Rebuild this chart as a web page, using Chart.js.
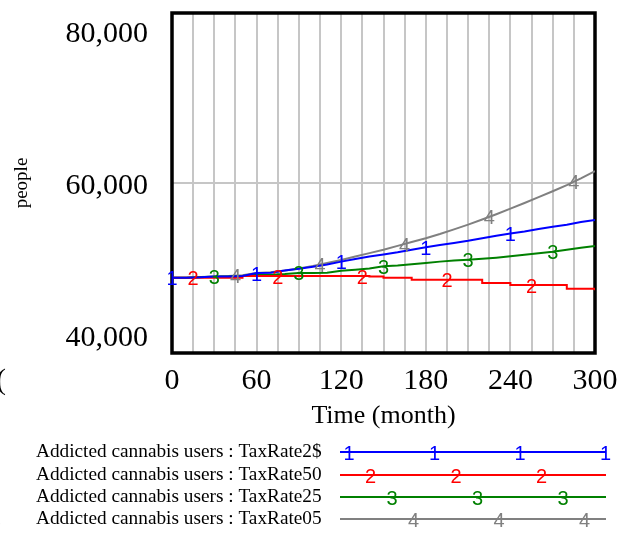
<!DOCTYPE html>
<html>
<head>
<meta charset="utf-8">
<title>Addicted cannabis users</title>
<script src="https://cdn.jsdelivr.net/npm/chart.js@4.4.0/dist/chart.umd.min.js"></script>
<style>
  html, body { margin: 0; padding: 0; background: #ffffff; }
  #wrap { width: 630px; height: 538px; }
</style>
</head>
<body>
<div id="wrap"><canvas id="chart" width="630" height="538"></canvas></div>
<script>
const months = [0, 10, 20, 30, 40, 50, 60, 70, 80, 90, 100, 110, 120, 130, 140, 150,
                160, 170, 180, 190, 200, 210, 220, 230, 240, 250, 260, 270, 280, 290, 300];

const taxRate2 = [48860, 48860, 48900, 49000, 49000, 49050, 49400, 49450, 49700, 49920, 50150,
                  50400, 50750, 51050, 51350, 51600, 51850, 52150, 52450, 52700, 52950,
                  53200, 53500, 53800, 54050, 54300, 54600, 54850, 55100, 55400, 55650];
const taxRate50 = [48860, 48860, 48860, 48860, 48860, 49050, 49050, 49050, 49050, 49050, 49050,
                   49050, 49050, 49050, 49000, 48850, 48850, 48620, 48620, 48620, 48620,
                   48620, 48240, 48240, 48000, 48000, 48000, 48000, 47550, 47550, 47380];
const taxRate25 = [48860, 48860, 48950, 48980, 49000, 49050, 49200, 49220, 49300, 49420, 49420,
                   49450, 49680, 49800, 49950, 50200, 50300, 50450, 50600, 50750, 50870,
                   50980, 51090, 51220, 51380, 51550, 51730, 51920, 52150, 52380, 52600];
const taxRate05 = [48860, 48860, 48900, 49000, 49050, 49150, 49400, 49500, 49700, 49950, 50250,
                   50600, 50950, 51350, 51750, 52150, 52600, 53050, 53500, 54000, 54550,
                   55100, 55700, 56330, 56980, 57650, 58330, 59030, 59750, 60550, 61400];

const seriesNames = [
  'Addicted cannabis users : TaxRate2$',
  'Addicted cannabis users : TaxRate50',
  'Addicted cannabis users : TaxRate25',
  'Addicted cannabis users : TaxRate05'
];
const seriesColors = ['#0000ff', '#ff0000', '#008000', '#808080'];
// only the TaxRate50 run shows clear flat steps
const seriesStepped = [false, true, false, false];

// months where each run gets its number tag
const markerMonths = [
  [0, 60, 120, 180, 240],
  [15, 75, 135, 195, 255],
  [30, 90, 150, 210, 270],
  [45, 105, 165, 225, 285]
];

const xTickLabels = [0, 60, 120, 180, 240, 300];
const yTickLabels = [40000, 60000, 80000];

const SERIF = '"Liberation Serif", "Times New Roman", serif';
const SANS = '"Liberation Sans", Arial, sans-serif';

// --- Helpers ---
const toPoints = (vals) => months.map((m, i) => ({ x: m, y: vals[i] }));

// value of a run at month t (held for stepped runs, linear otherwise)
const valueAt = (data, t, stepped) => {
  for (let i = 0; i < data.length - 1; i++) {
    const a = data[i], b = data[i + 1];
    if (t >= a.x && t <= b.x) {
      if (stepped) return t === b.x ? b.y : a.y;
      return a.y + (b.y - a.y) * (t - a.x) / (b.x - a.x);
    }
  }
  return data[data.length - 1].y;
};

// y labels are nudged like Vensim does: the two end labels sit inside the frame.
// The nudge is done with an empty extra line whose height sets the shift.
const yLabelLineHeight = (v) => {
  if (v === 80000) return 1.4;
  if (v === 40000) return 0.97;
  return 0.2;
};

// --- Plugins ---
const plotFrame = {
  id: 'plotFrame',
  beforeDatasetsDraw(chart) {
    const { ctx, chartArea: a } = chart;
    ctx.save();
    ctx.strokeStyle = '#000000';
    ctx.lineWidth = 3.5;
    ctx.strokeRect(a.left, a.top, a.right - a.left, a.bottom - a.top);
    ctx.restore();
  }
};

const numberTags = {
  id: 'numberTags',
  afterDatasetsDraw(chart) {
    const { ctx, scales: { x, y } } = chart;
    ctx.save();
    ctx.font = '20px ' + SANS;
    ctx.textAlign = 'center';
    ctx.textBaseline = 'middle';
    chart.data.datasets.forEach((ds, i) => {
      ctx.fillStyle = ds.borderColor;
      markerMonths[i].forEach(t => {
        const v = valueAt(ds.data, t, seriesStepped[i]);
        ctx.fillText(String(i + 1), x.getPixelForValue(t), y.getPixelForValue(v) + 2);
      });
    });
    ctx.restore();
  }
};

// Vensim style key under the plot: name on the left, sample line with tags on the right
const runKey = {
  id: 'runKey',
  afterDraw(chart) {
    const { ctx } = chart;
    const rowY = [452, 475, 497, 519];
    ctx.save();
    chart.data.datasets.forEach((ds, i) => {
      const yy = rowY[i];
      ctx.fillStyle = '#000000';
      ctx.font = '19.3px ' + SERIF;
      ctx.textAlign = 'left';
      ctx.textBaseline = 'middle';
      ctx.fillText(ds.label, 36, yy);

      ctx.strokeStyle = ds.borderColor;
      ctx.lineWidth = 2;
      ctx.beginPath();
      ctx.moveTo(340, yy);
      ctx.lineTo(606, yy);
      ctx.stroke();

      ctx.fillStyle = ds.borderColor;
      ctx.font = '20px ' + SANS;
      ctx.textAlign = 'center';
      for (let tx = 349 + i * 21.5; tx <= 607; tx += 85.5) {
        ctx.fillText(String(i + 1), tx, yy + 2);
      }
      // clipped tag remnants at the left edge
      ctx.fillText(String(i + 1), -5, yy + 2);
    });
    ctx.fillStyle = '#000000';
    ctx.font = '30px ' + SERIF;
    ctx.textAlign = 'left';
    ctx.fillText('(', -4, 381);
    ctx.restore();
  }
};

// --- Chart ---
const ctx = document.getElementById('chart').getContext('2d');

new Chart(ctx, {
  type: 'line',
  data: {
    datasets: [taxRate2, taxRate50, taxRate25, taxRate05].map((vals, i) => ({
      label: seriesNames[i],
      data: toPoints(vals),
      borderColor: seriesColors[i],
      backgroundColor: seriesColors[i],
      borderWidth: 2,
      pointRadius: 0,
      stepped: seriesStepped[i],
      fill: false
    }))
  },
  options: {
    responsive: false,
    animation: false,
    layout: { padding: { top: 13, right: 35, left: 0, bottom: 0 } },
    plugins: {
      legend: { display: false },
      tooltip: { enabled: false }
    },
    scales: {
      x: {
        type: 'linear',
        min: 0,
        max: 300,
        afterFit: (scale) => {
          scale.height = 185;
          scale.paddingLeft = 0;
          scale.paddingRight = 0;
        },
        grid: { color: '#c6c6c6', lineWidth: 2, drawTicks: false },
        border: { display: false },
        ticks: {
          stepSize: 15,
          autoSkip: false,
          maxRotation: 0,
          padding: 10,
          color: '#000000',
          font: { family: SERIF, size: 30 },
          callback: (v) => xTickLabels.includes(v) ? String(v) : ''
        },
        title: {
          display: true,
          text: 'Time (month)',
          color: '#000000',
          font: { family: SERIF, size: 26 },
          padding: { top: 0, bottom: 106 }
        }
      },
      y: {
        min: 40000,
        max: 80000,
        afterFit: (scale) => {
          scale.width = 172;
          scale.paddingTop = 0;
          scale.paddingBottom = 0;
        },
        grid: { color: '#c6c6c6', lineWidth: 2, drawTicks: false },
        border: { display: false },
        ticks: {
          stepSize: 10000,
          padding: 24,
          color: '#000000',
          font: (c) => ({ family: SERIF, size: 30, lineHeight: yLabelLineHeight(c.tick && c.tick.value) }),
          callback: (v) => {
            if (!yTickLabels.includes(v)) return '';
            const txt = v.toLocaleString('en-US');
            if (v === 40000) return [txt, ''];
            return ['', txt];
          }
        },
        title: {
          display: true,
          text: 'people',
          color: '#000000',
          font: { family: SERIF, size: 19 },
          padding: { top: 11, bottom: 0 }
        }
      }
    }
  },
  plugins: [plotFrame, numberTags, runKey]
});
</script>
</body>
</html>
